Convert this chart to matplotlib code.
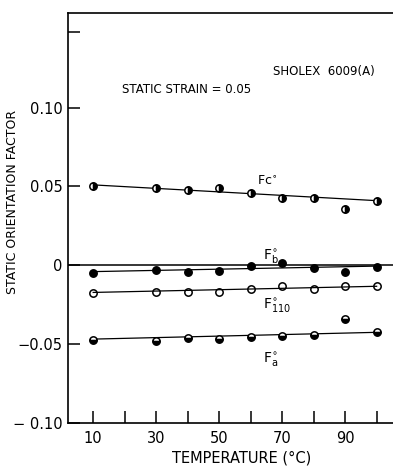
import matplotlib.pyplot as plt

# Static orientation factors vs temperature
temperature = [10, 30, 40, 50, 60, 70, 80, 90, 100]
fc = [0.0503, 0.049, 0.048, 0.049, 0.046, 0.0426, 0.043, 0.0357, 0.041]
fb = [-0.0049, -0.0032, -0.0042, -0.0038, -0.0006, 0.0015, -0.002, -0.0042, -0.001]
f110 = [-0.0176, -0.017, -0.017, -0.017, -0.0149, -0.0134, -0.0153, -0.0134, -0.0134]
fa = [-0.0471, -0.0478, -0.0463, -0.047, -0.0457, -0.0446, -0.044, -0.034, -0.0425]

# straight fitted lines, values at the ends (10 and 100 degC)
fit_x = [10, 100]
fc_fit = [0.051, 0.041]
fb_fit = [-0.004, -0.0005]
f110_fit = [-0.0172, -0.0133]
fa_fit = [-0.0468, -0.0425]

yticks = [-0.10, -0.05, 0, 0.05, 0.10, 0.148]
ytick_labels = ["\u2212 0.10", "\u22120.05", "0", "0.05", "0.10", ""]
xticks = [10, 20, 30, 40, 50, 60, 70, 80, 90, 100]
xtick_labels = ["10", "", "30", "", "50", "", "70", "", "90", ""]

fig = plt.figure(figsize=(3.93, 4.68), dpi=100)
ax = fig.add_axes([68 / 393, 45 / 468, 325 / 393, 410 / 468])

ax.axhline(0, color="black", lw=1.1)

series = [
    (fc, fc_fit, dict(marker="o", fillstyle="right")),
    (fb, fb_fit, dict(marker="o", fillstyle="full")),
    (f110, f110_fit, dict(marker="o", fillstyle="none")),
    (fa, fa_fit, dict(marker="o", fillstyle="bottom")),
]
for vals, fit, mk in series:
    ax.plot(fit_x, fit, color="black", lw=0.9)
    ax.plot(temperature, vals, linestyle="none", color="black", markersize=5.3,
            markerfacecoloralt="white", markeredgewidth=1.1, **mk)

ax.set_xlim(2, 105.2)
ax.set_ylim(-0.10, 0.160)
ax.set_xticks(xticks)
ax.set_xticklabels(xtick_labels)
ax.set_yticks(yticks)
ax.set_yticklabels(ytick_labels)
ax.tick_params(direction="in", length=8.5, width=1.1, labelsize=10.5)
ax.tick_params(axis="x", pad=6)
ax.tick_params(axis="y", pad=4)
ax.spines["right"].set_visible(False)
for s in ["left", "top", "bottom"]:
    ax.spines[s].set_linewidth(1.2)

ax.set_xlabel("TEMPERATURE (\u00b0C)", fontsize=10.5)
ax.set_ylabel("STATIC ORIENTATION FACTOR", fontsize=9)
ax.yaxis.set_label_coords(-0.15, 0.54)
ax.xaxis.set_label_coords(0.535, -0.068)

ax.text(19, 0.109, "STATIC STRAIN = 0.05", fontsize=8.5)
ax.text(67, 0.121, "SHOLEX  6009(A)", fontsize=8.5)
ax.text(62, 0.051, r"Fc$^{\circ}$", fontsize=9)
ax.text(64, 0.0035, r"F$_{\mathrm{b}}^{\circ}$", fontsize=10)
ax.text(64, -0.028, r"F$_{\mathrm{110}}^{\circ}$", fontsize=10)
ax.text(64, -0.062, r"F$_{\mathrm{a}}^{\circ}$", fontsize=10)

fig.savefig("out.png", dpi=100)
